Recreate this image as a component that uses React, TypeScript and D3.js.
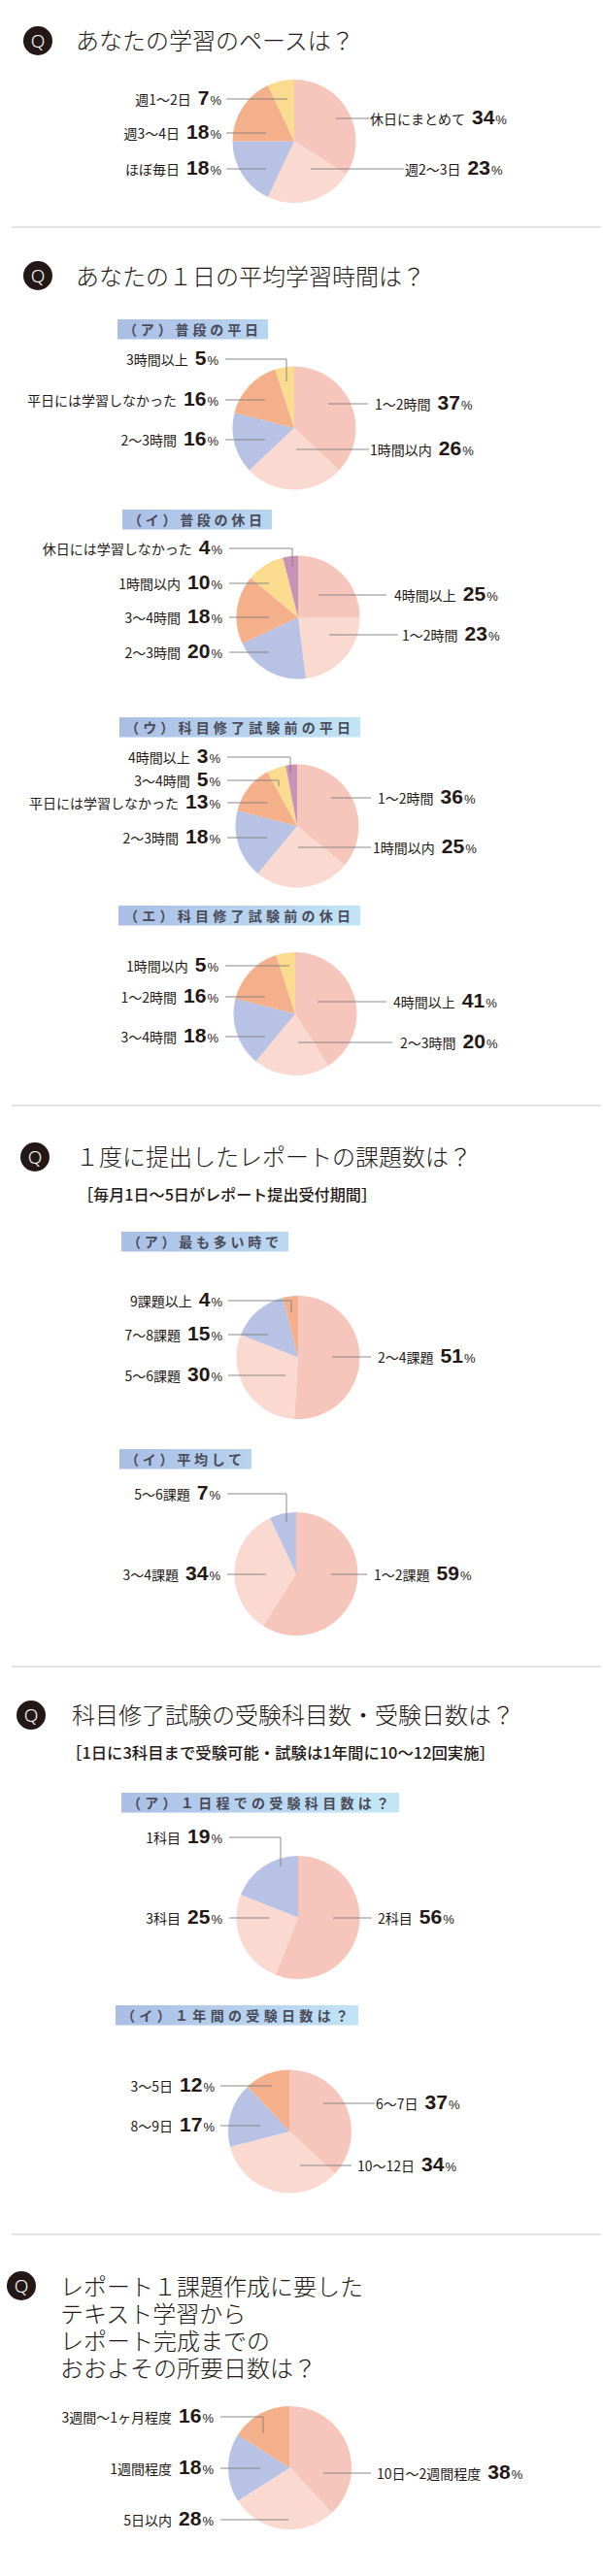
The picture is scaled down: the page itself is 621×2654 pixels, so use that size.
import React from 'react';
import * as d3 from 'd3';

// slice colours, in slice order (largest first, clockwise from 12 o'clock)
const PALETTE = ['#F6C5BB', '#FAD9D0', '#B8C2E4', '#F4AF8B', '#FBDB8E', '#C794B8'];

// ---- data ----
const paceLabels = ['休日にまとめて', '週2〜3日', 'ほぼ毎日', '週3〜4日', '週1〜2日'];
const paceValues = [34, 23, 18, 18, 7];

const weekdayLabels = ['1〜2時間', '1時間以内', '2〜3時間', '平日には学習しなかった', '3時間以上'];
const weekdayValues = [37, 26, 16, 16, 5];

const holidayLabels = ['4時間以上', '1〜2時間', '2〜3時間', '3〜4時間', '1時間以内', '休日には学習しなかった'];
const holidayValues = [25, 23, 20, 18, 10, 4];

const preExamWeekdayLabels = ['1〜2時間', '1時間以内', '2〜3時間', '平日には学習しなかった', '3〜4時間', '4時間以上'];
const preExamWeekdayValues = [36, 25, 18, 13, 5, 3];

const preExamHolidayLabels = ['4時間以上', '2〜3時間', '3〜4時間', '1〜2時間', '1時間以内'];
const preExamHolidayValues = [41, 20, 18, 16, 5];

const reportMaxLabels = ['2〜4課題', '5〜6課題', '7〜8課題', '9課題以上'];
const reportMaxValues = [51, 30, 15, 4];

const reportAvgLabels = ['1〜2課題', '3〜4課題', '5〜6課題'];
const reportAvgValues = [59, 34, 7];

const examSubjectLabels = ['2科目', '3科目', '1科目'];
const examSubjectValues = [56, 25, 19];

const examDayLabels = ['6〜7日', '10〜12日', '8〜9日', '3〜5日'];
const examDayValues = [37, 34, 17, 12];

const reportDayLabels = ['10日〜2週間程度', '5日以内', '1週間程度', '3週間〜1ヶ月程度'];
const reportDayValues = [38, 28, 18, 16];

const questionTitles = [
  ['あなたの学習のペースは？'],
  ['あなたの１日の平均学習時間は？'],
  ['１度に提出したレポートの課題数は？'],
  ['科目修了試験の受験科目数・受験日数は？'],
  ['レポート１課題作成に要した', 'テキスト学習から', 'レポート完成までの', 'おおよその所要日数は？'],
];
const questionNotes = ['', '', '［毎月1日〜5日がレポート提出受付期間］', '［1日に3科目まで受験可能・試験は1年間に10〜12回実施］', ''];

const subTitles = [
  '（ア）普段の平日',
  '（イ）普段の休日',
  '（ウ）科目修了試験前の平日',
  '（エ）科目修了試験前の休日',
  '（ア）最も多い時で',
  '（イ）平均して',
  '（ア）１日程での受験科目数は？',
  '（イ）１年間の受験日数は？',
];

// ---- layout ----
const W = 621;
const H = 2654;
const R = 63.5;
const FONT_JP = '"Noto Sans CJK JP", "Noto Sans", sans-serif';
const FONT_NUM = '"Liberation Sans", Arial, sans-serif';
const INK = '#231815';

const questionLayout = [
  { cx: 39, cy: 42, tx: 78, ty: 42 },
  { cx: 39, cy: 284, tx: 78, ty: 285 },
  { cx: 36, cy: 1192, tx: 78, ty: 1192 },
  { cx: 32, cy: 1767, tx: 74, ty: 1767 },
  { cx: 22, cy: 2355, tx: 62, ty: 2356 },
];
const noteLayout = [null, null, { x: 80, y: 1231, w: 308 }, { x: 68, y: 1806, w: 442 }, null];

const boxLayout = [
  { x: 121, y: 329, w: 155 },
  { x: 126, y: 525, w: 154 },
  { x: 123, y: 739, w: 248 },
  { x: 122, y: 933, w: 249 },
  { x: 125, y: 1269, w: 172 },
  { x: 123, y: 1493, w: 136 },
  { x: 125, y: 1847, w: 286 },
  { x: 119, y: 2066, w: 250 },
];

const separators = [234, 1139, 1717, 2302];

type Lab = { side: 'L' | 'R'; y: number; x1: number; x2: number; tx: number; ey?: number };

const charts: { labels: string[]; values: number[]; cx: number; cy: number; labs: Lab[] }[] = [
  {
    labels: paceLabels, values: paceValues, cx: 303, cy: 145.5,
    labs: [
      { side: 'R', y: 122, x1: 346, x2: 380, tx: 381 },
      { side: 'R', y: 174, x1: 320, x2: 416, tx: 417 },
      { side: 'L', y: 174, x1: 233, x2: 274, tx: 228 },
      { side: 'L', y: 137, x1: 233, x2: 274, tx: 228 },
      { side: 'L', y: 102, x1: 233, x2: 296, tx: 228 },
    ],
  },
  {
    labels: weekdayLabels, values: weekdayValues, cx: 303, cy: 441,
    labs: [
      { side: 'R', y: 416, x1: 338, x2: 379, tx: 386 },
      { side: 'R', y: 463, x1: 305, x2: 380, tx: 381 },
      { side: 'L', y: 453, x1: 232, x2: 273, tx: 225 },
      { side: 'L', y: 412, x1: 232, x2: 273, tx: 225 },
      { side: 'L', y: 370, x1: 232, x2: 295, tx: 225, ey: 393 },
    ],
  },
  {
    labels: holidayLabels, values: holidayValues, cx: 307, cy: 636,
    labs: [
      { side: 'R', y: 613, x1: 328, x2: 398, tx: 406 },
      { side: 'R', y: 654, x1: 339, x2: 410, tx: 414 },
      { side: 'L', y: 672, x1: 236, x2: 277, tx: 229 },
      { side: 'L', y: 636, x1: 236, x2: 277, tx: 229 },
      { side: 'L', y: 601, x1: 236, x2: 277, tx: 229 },
      { side: 'L', y: 565, x1: 236, x2: 301, tx: 229, ey: 583 },
    ],
  },
  {
    labels: preExamWeekdayLabels, values: preExamWeekdayValues, cx: 306, cy: 851,
    labs: [
      { side: 'R', y: 822, x1: 341, x2: 382, tx: 389 },
      { side: 'R', y: 873, x1: 307, x2: 382, tx: 384 },
      { side: 'L', y: 863, x1: 234, x2: 275, tx: 227 },
      { side: 'L', y: 827, x1: 234, x2: 275, tx: 227 },
      { side: 'L', y: 804, x1: 234, x2: 287, tx: 227, ey: 810 },
      { side: 'L', y: 780, x1: 234, x2: 299, tx: 227, ey: 797 },
    ],
  },
  {
    labels: preExamHolidayLabels, values: preExamHolidayValues, cx: 304, cy: 1044.5,
    labs: [
      { side: 'R', y: 1032, x1: 327, x2: 398, tx: 405 },
      { side: 'R', y: 1074, x1: 307, x2: 404, tx: 412 },
      { side: 'L', y: 1068, x1: 232, x2: 273, tx: 225 },
      { side: 'L', y: 1027, x1: 232, x2: 273, tx: 225 },
      { side: 'L', y: 995, x1: 232, x2: 298, tx: 225 },
    ],
  },
  {
    labels: reportMaxLabels, values: reportMaxValues, cx: 307, cy: 1398.5,
    labs: [
      { side: 'R', y: 1398, x1: 342, x2: 382, tx: 389 },
      { side: 'L', y: 1417, x1: 235, x2: 294, tx: 229 },
      { side: 'L', y: 1375, x1: 235, x2: 276, tx: 229 },
      { side: 'L', y: 1340, x1: 235, x2: 300, tx: 229, ey: 1352 },
    ],
  },
  {
    labels: reportAvgLabels, values: reportAvgValues, cx: 305, cy: 1621.5,
    labs: [
      { side: 'R', y: 1622, x1: 341, x2: 378, tx: 385 },
      { side: 'L', y: 1622, x1: 234, x2: 274, tx: 227 },
      { side: 'L', y: 1539, x1: 234, x2: 295, tx: 227, ey: 1568 },
    ],
  },
  {
    labels: examSubjectLabels, values: examSubjectValues, cx: 307, cy: 1975.5,
    labs: [
      { side: 'R', y: 1976, x1: 343, x2: 383, tx: 389 },
      { side: 'L', y: 1976, x1: 236, x2: 277, tx: 229 },
      { side: 'L', y: 1893, x1: 236, x2: 289, tx: 229, ey: 1923 },
    ],
  },
  {
    labels: examDayLabels, values: examDayValues, cx: 298.5, cy: 2196,
    labs: [
      { side: 'R', y: 2167, x1: 333, x2: 386, tx: 387 },
      { side: 'R', y: 2231, x1: 309, x2: 362, tx: 368 },
      { side: 'L', y: 2190, x1: 227, x2: 268, tx: 221 },
      { side: 'L', y: 2149, x1: 227, x2: 280, tx: 221 },
    ],
  },
  {
    labels: reportDayLabels, values: reportDayValues, cx: 298.5, cy: 2542.5,
    labs: [
      { side: 'R', y: 2548, x1: 333, x2: 382, tx: 388 },
      { side: 'L', y: 2596, x1: 227, x2: 297, tx: 220 },
      { side: 'L', y: 2543, x1: 227, x2: 268, tx: 220 },
      { side: 'L', y: 2490, x1: 227, x2: 271, tx: 220, ey: 2507 },
    ],
  },
];

const pieGen = d3.pie<number>().sort(null).value(d => d);
const arcGen = d3.arc<d3.PieArcDatum<number>>().innerRadius(0).outerRadius(R);

const SliceLabel: React.FC<{ lab: Lab; text: string; value: number }> = ({ lab, text, value }) => {
  const path = lab.ey !== undefined
    ? `M${lab.x1},${lab.y}H${lab.x2}V${lab.ey}`
    : `M${lab.x1},${lab.y}H${lab.x2}`;
  return (
    <g>
      <path d={path} fill="none" stroke="#7d7d7d" strokeWidth={0.9} />
      <text
        x={lab.tx}
        y={lab.y + 6}
        textAnchor={lab.side === 'L' ? 'end' : 'start'}
        fill={INK}
      >
        <tspan fontFamily={FONT_JP} fontSize={14}>{text}</tspan>
        <tspan dx={7} fontFamily={FONT_NUM} fontWeight="bold" fontSize={21}>{value}</tspan>
        <tspan dx={1} fontFamily={FONT_NUM} fontSize={13}>%</tspan>
      </text>
    </g>
  );
};

const App: React.FC = () => {
  return (
    <div style={{ position: 'absolute', left: 0, top: 0 }}>
      <svg width={W} height={H} viewBox={`0 0 ${W} ${H}`} style={{ display: 'block', background: '#fff' }}>
        <defs>
          <linearGradient id="boxGrad" gradientUnits="userSpaceOnUse" x1={120} y1={0} x2={380} y2={0}>
            <stop offset="0" stopColor="#AABDE5" />
            <stop offset="1" stopColor="#C2E6F6" />
          </linearGradient>
        </defs>
        <rect x={0} y={0} width={W} height={H} fill="#fff" />

        {separators.map((y, i) => (
          <line key={'sep' + i} x1={12} x2={619} y1={y} y2={y} stroke="#c9c9c9" strokeWidth={1} />
        ))}

        {questionTitles.map((lines, i) => {
          const q = questionLayout[i];
          const note = noteLayout[i];
          return (
            <g key={'q' + i}>
              <circle cx={q.cx} cy={q.cy} r={15} fill={INK} />
              <text x={q.cx} y={q.cy + 7} textAnchor="middle" fill="#fff"
                fontFamily='"Noto Sans", sans-serif' fontWeight={300} fontSize={19}>Q</text>
              <text x={q.tx} y={q.ty + 9} fill={INK} fontFamily={FONT_JP} fontWeight={300} fontSize={24}>
                {lines.map((line, j) => (
                  <tspan key={j} x={q.tx} dy={j === 0 ? 0 : 28}>{line}</tspan>
                ))}
              </text>
              {note && (
                <text x={note.x} y={note.y + 6} fill={INK} fontFamily={FONT_JP} fontWeight={500}
                  fontSize={16} textLength={note.w} lengthAdjust="spacingAndGlyphs">{questionNotes[i]}</text>
              )}
            </g>
          );
        })}

        {subTitles.map((t, i) => {
          const b = boxLayout[i];
          return (
            <g key={'b' + i}>
              <rect x={b.x} y={b.y} width={b.w} height={20.5} fill="url(#boxGrad)" />
              <text x={b.x + 6} y={b.y + 15.5} fill="#4a4a58" fontFamily={FONT_JP} fontWeight="bold"
                fontSize={14} textLength={b.w - 16} lengthAdjust="spacing">{t}</text>
            </g>
          );
        })}

        {charts.map((c, ci) => {
          const arcs = pieGen(c.values);
          return (
            <g key={'c' + ci}>
              <g transform={`translate(${c.cx},${c.cy})`}>
                {arcs.map((a, i) => (
                  <path key={i} d={arcGen(a) || ''} fill={PALETTE[i % PALETTE.length]} />
                ))}
              </g>
              {c.labs.map((lab, i) => (
                <SliceLabel key={i} lab={lab} text={c.labels[i]} value={c.values[i]} />
              ))}
            </g>
          );
        })}
      </svg>
    </div>
  );
};

export default App;
